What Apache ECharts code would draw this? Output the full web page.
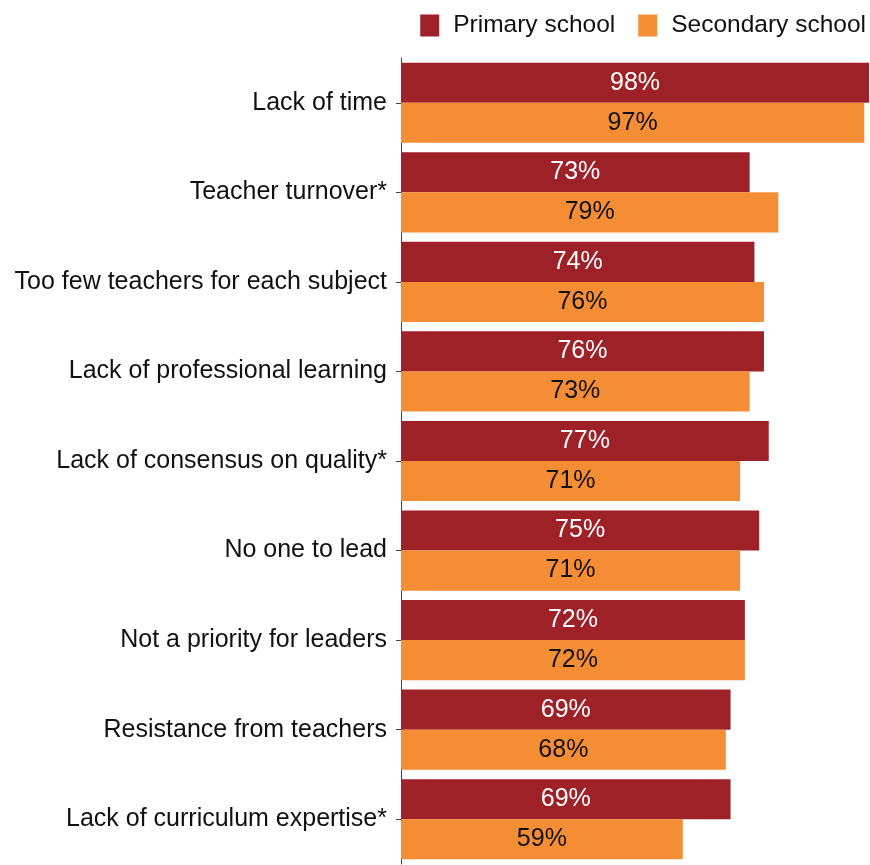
<!DOCTYPE html>
<html>
<head>
<meta charset="utf-8">
<script src="https://cdn.jsdelivr.net/npm/echarts@6/dist/echarts.min.js"></script>
<style>
  html, body { margin: 0; padding: 0; background: #fff; }
  #chart { width: 870px; height: 865px; }
</style>
</head>
<body>
<div id="chart"></div>
<script>
// Barriers reported by school level (share of respondents, %)
const categories = [
  'Lack of time',
  'Teacher turnover*',
  'Too few teachers for each subject',
  'Lack of professional learning',
  'Lack of consensus on quality*',
  'No one to lead',
  'Not a priority for leaders',
  'Resistance from teachers',
  'Lack of curriculum expertise*'
];
const primarySchool = [98, 73, 74, 76, 77, 75, 72, 69, 69];
const secondarySchool = [97, 79, 76, 73, 71, 71, 72, 68, 59];
const seriesNames = ['Primary school', 'Secondary school'];

const FONT = '"Liberation Sans", Arial, sans-serif';

const chart = echarts.init(document.getElementById('chart'), null, { renderer: 'canvas' });

chart.setOption({
  animation: false,
  textStyle: { fontFamily: FONT },
  legend: {
    top: 8,
    right: -1,
    itemWidth: 19,
    itemHeight: 22,
    itemGap: 23,
    icon: 'rect',
    textStyle: { fontSize: 24.5, color: '#111', fontFamily: FONT, padding: [0, 0, 0, 9] },
    data: seriesNames
  },
  grid: {
    left: 401,
    top: 58,
    width: 469,
    height: 806
  },
  xAxis: {
    type: 'value',
    min: 0,
    max: 98.2,
    show: false
  },
  yAxis: {
    type: 'category',
    inverse: true,
    data: categories,
    axisLine: { show: true, lineStyle: { color: '#444', width: 1 } },
    axisTick: { show: true, alignWithLabel: true, length: 5, lineStyle: { color: '#444' } },
    axisLabel: { fontSize: 25, color: '#111', margin: 14, fontFamily: FONT }
  },
  series: [
    {
      name: seriesNames[0],
      type: 'bar',
      data: primarySchool,
      barGap: 0,
      barCategoryGap: '10.5%',
      itemStyle: { color: '#9e2128' },
      label: {
        show: true,
        position: 'inside',
        formatter: '{c}%',
        color: '#fff',
        fontSize: 25,
        fontFamily: FONT
      }
    },
    {
      name: seriesNames[1],
      type: 'bar',
      data: secondarySchool,
      barGap: 0,
      barCategoryGap: '10.5%',
      itemStyle: { color: '#f58d34' },
      label: {
        show: true,
        position: 'inside',
        formatter: '{c}%',
        color: '#111',
        fontSize: 25,
        fontFamily: FONT
      }
    }
  ]
});
</script>
</body>
</html>
